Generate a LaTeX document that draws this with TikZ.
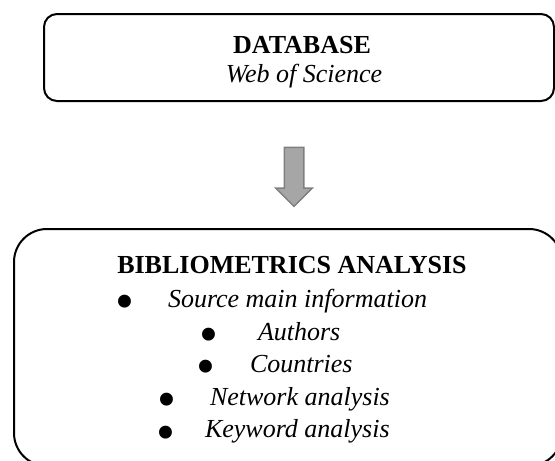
\documentclass[tikz,border=0pt]{standalone}
\usepackage{fontspec}
\setmainfont{Liberation Serif}
\usetikzlibrary{shapes.arrows}
\definecolor{arrowfill}{HTML}{A6A6A6}
\definecolor{arrowline}{HTML}{7F7F7F}

\begin{document}
\begin{tikzpicture}[
  x=1pt, y=-1pt,
  every node/.style={inner sep=0pt, outer sep=0pt},
  stagebox/.style={draw=black, line width=2pt, rectangle},
  headtext/.style={font=\fontsize{26}{30}\selectfont\bfseries, anchor=base},
  subtext/.style={font=\fontsize{26}{30}\selectfont\itshape, anchor=base},
  itemtext/.style={font=\fontsize{26}{30}\selectfont\itshape, anchor=base west},
  dot/.style={font=\fontsize{54}{60}\selectfont, anchor=center},
  flowarrow/.style={single arrow, draw=arrowline, fill=arrowfill, line width=1.5pt,
    inner xsep=0pt, inner ysep=9pt, minimum height=59pt, minimum width=35pt,
    single arrow head extend=8.5pt}
]
  \useasboundingbox (0,0) rectangle (555,461);
  \clip (0,0) rectangle (555,461);

  % source box
  \node[stagebox, rounded corners=13pt, minimum width=510pt, minimum height=87pt] (db) at (299,57.5) {};
  \node[headtext] (dbname) at (302,53) {DATABASE};
  \node[subtext]  (dbsrc)  at (304,82) {Web of Science};

  % flow
  \node[flowarrow, rotate=-90] (flow) at (294,172) {};

  % analysis box
  \node[stagebox, rounded corners=33pt, minimum width=548pt, minimum height=237pt] (bib) at (288,347.5) {};
  \node[headtext] (bibname) at (292,273) {BIBLIOMETRICS ANALYSIS};

  \node[dot]      (dsrc)  at (125,307) {•};
  \node[itemtext] (isrc)  at (168,307) {Source main information};
  \node[dot]      (daut)  at (209,340) {•};
  \node[itemtext] (iaut)  at (258,340) {Authors};
  \node[dot]      (dcty)  at (206,372) {•};
  \node[itemtext] (icty)  at (250,372) {Countries};
  \node[dot]      (dnet)  at (167,405) {•};
  \node[itemtext] (inet)  at (210,405) {Network analysis};
  \node[dot]      (dkey)  at (166,438) {•};
  \node[itemtext] (ikey)  at (205,437) {Keyword analysis};
\end{tikzpicture}
\end{document}
